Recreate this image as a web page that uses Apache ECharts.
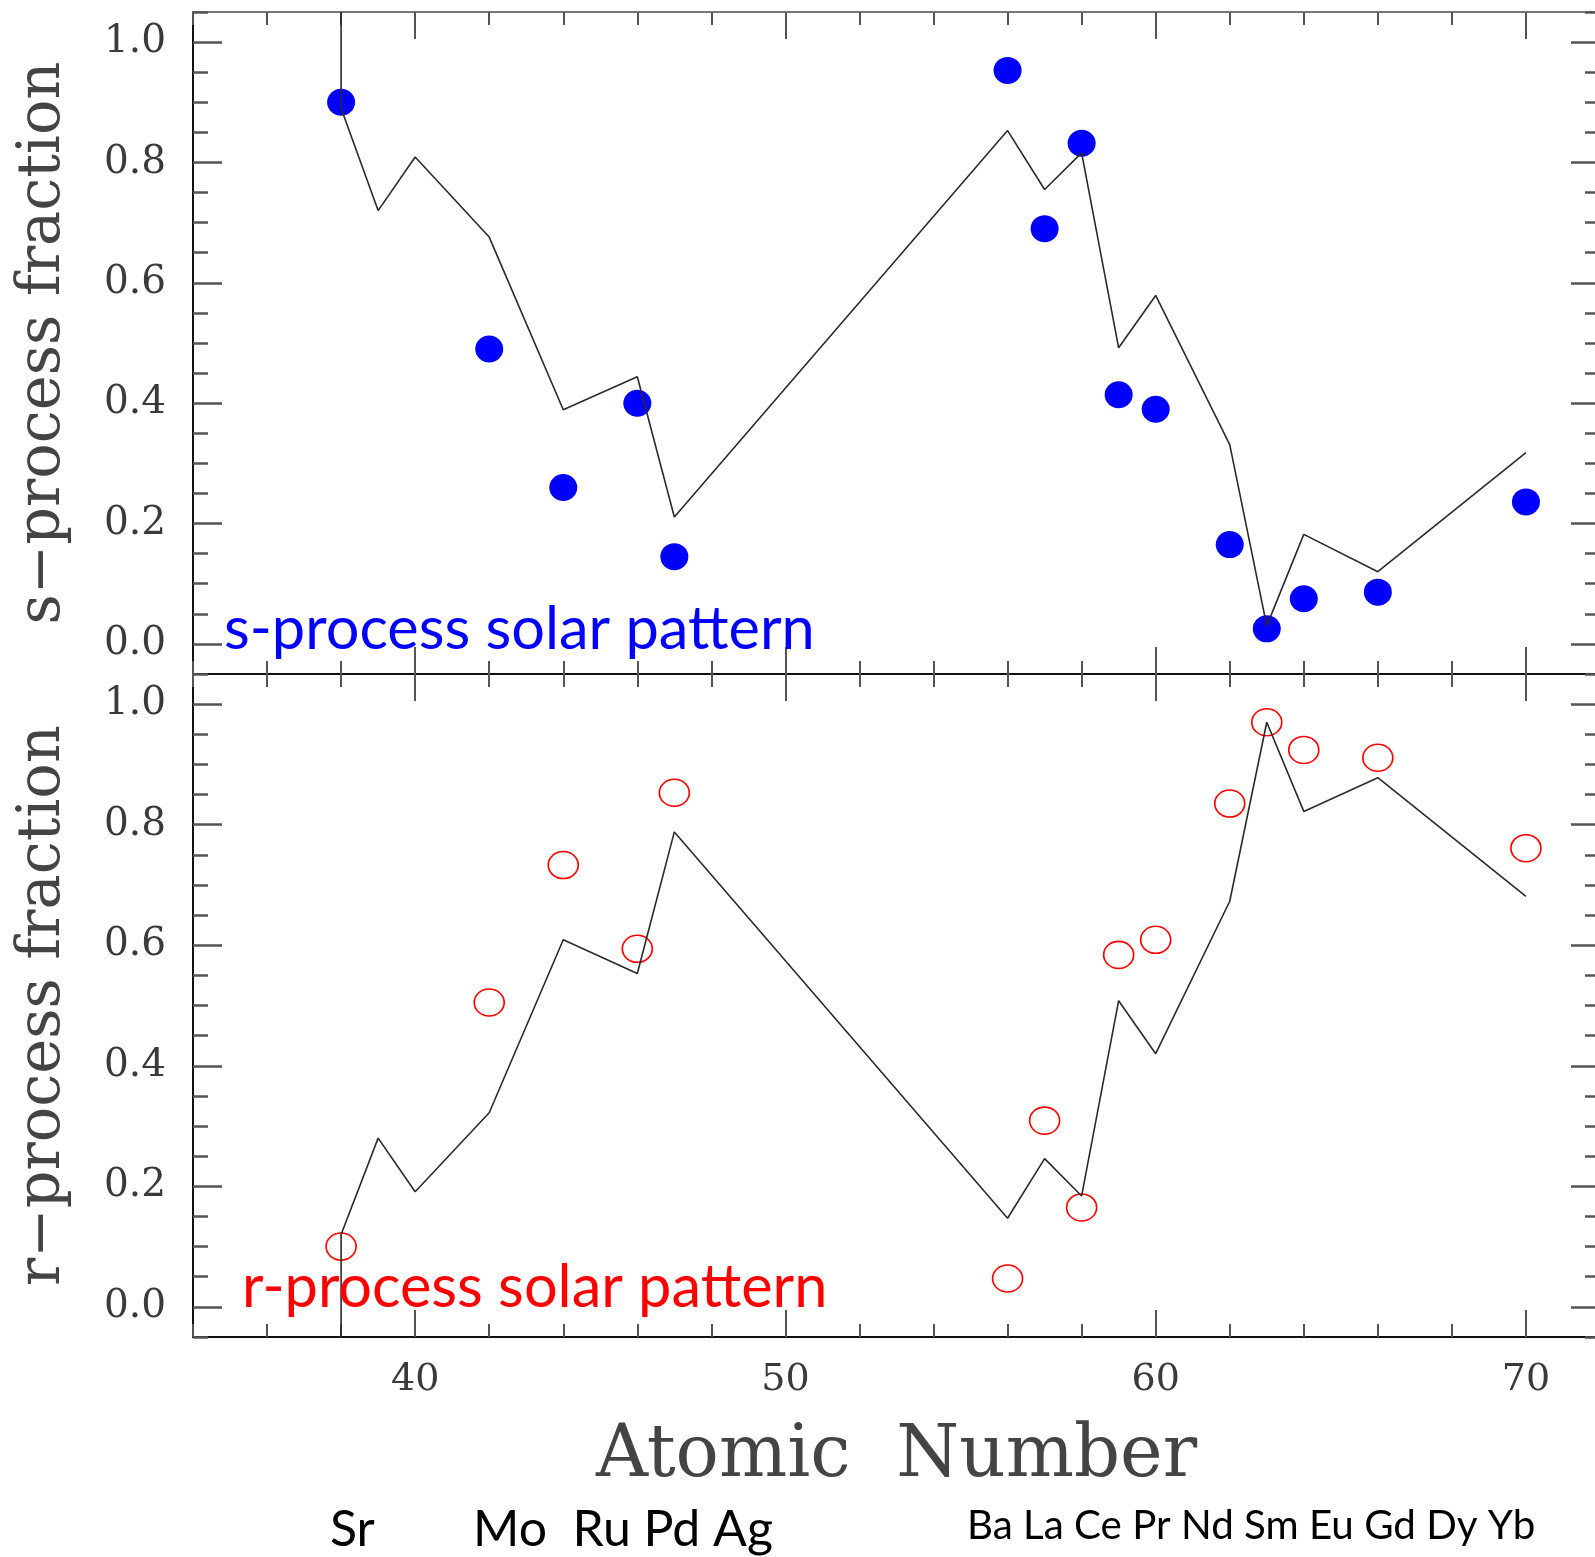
<!DOCTYPE html>
<html>
<head>
<meta charset="utf-8">
<title>s- and r-process solar fractions</title>
<script src="https://cdn.jsdelivr.net/npm/echarts@6/dist/echarts.min.js"></script>
<style>
  html, body { margin: 0; padding: 0; background: #fff; overflow: hidden; }
  /* the plot frame's right edge sits just past the page edge */
  #chart { width: 1600px; height: 1557px; }
</style>
</head>
<body>
<div id="chart"></div>
<script>
// Elements measured and their atomic numbers
const elements = ['Sr', 'Mo', 'Ru', 'Pd', 'Ag', 'Ba', 'La', 'Ce', 'Pr', 'Nd', 'Sm', 'Eu', 'Gd', 'Dy', 'Yb'];
const atomicNumbers = [38, 42, 44, 46, 47, 56, 57, 58, 59, 60, 62, 63, 64, 66, 70];

// Observed fractions per element
const sFraction = [0.90, 0.49, 0.26, 0.40, 0.145, 0.953, 0.69, 0.832, 0.414, 0.39, 0.165, 0.025, 0.075, 0.086, 0.236];
const rFraction = [0.10, 0.505, 0.733, 0.594, 0.853, 0.047, 0.309, 0.165, 0.584, 0.609, 0.835, 0.97, 0.924, 0.911, 0.761];

// Solar-system s/r decomposition curves
const modelZ = [38, 38, 39, 40, 42, 44, 46, 47, 56, 57, 58, 59, 60, 62, 63, 64, 66, 70];
const sModel = [1.05, 0.89, 0.72, 0.809, 0.676, 0.389, 0.444, 0.211, 0.853, 0.755, 0.816, 0.492, 0.579, 0.331, 0.03, 0.182, 0.12, 0.318];
const rModel = [-0.05, 0.12, 0.28, 0.191, 0.322, 0.609, 0.553, 0.788, 0.147, 0.246, 0.184, 0.508, 0.42, 0.673, 0.97, 0.822, 0.878, 0.681];

// Axis ticks
const xMajorTicks = [40, 50, 60, 70];
const yMajorTicks = [0.0, 0.2, 0.4, 0.6, 0.8, 1.0];

// Element names written below the axis
const elementRows = ['Sr', 'Mo  Ru Pd Ag', 'Ba La Ce Pr Nd Sm Eu Gd Dy Yb'];

const panelTitles = ['s-process solar pattern', 'r-process solar pattern'];
const yNames = ['s\u2212process fraction', 'r\u2212process fraction'];
const xName = 'Atomic  Number';

const pairs = (xs, ys) => xs.map((x, i) => [x, ys[i]]);

const serif = 'DejaVu Serif';
const tickColor = '#555';

const X_MIN = 34, X_MAX = 72, Y_MIN = -0.05, Y_MAX = 1.05;

function xAxisMinor(grid, position, lineColor) {
  return {
    type: 'value', gridIndex: grid, position: position,
    min: X_MIN, max: X_MAX, interval: 2,
    axisLine: { show: true, onZero: false, lineStyle: { color: lineColor, width: 2 } },
    axisTick: { show: true, inside: true, length: 13, lineStyle: { color: tickColor, width: 2 } },
    axisLabel: { show: false },
    splitLine: { show: false }
  };
}
function xAxisMajor(grid, position, withLabels) {
  const ax = {
    type: 'value', gridIndex: grid, position: position,
    min: X_MIN, max: X_MAX,
    axisLine: { show: false, onZero: false },
    axisTick: { show: true, inside: true, length: 27, customValues: xMajorTicks,
                lineStyle: { color: tickColor, width: 2 } },
    axisLabel: { show: !!withLabels, customValues: xMajorTicks, margin: 24,
                 fontFamily: serif, fontSize: 38, color: '#3a3a3a',
                 formatter: v => String(v) },
    splitLine: { show: false }
  };
  if (withLabels) {
    ax.name = xName;
    ax.nameLocation = 'middle';
    ax.nameGap = 84;
    ax.nameTextStyle = { fontFamily: serif, fontSize: 72, color: '#444' };
  }
  return ax;
}
function yAxisMinor(grid, position) {
  return {
    type: 'value', gridIndex: grid, position: position,
    min: Y_MIN, max: Y_MAX, interval: 0.05,
    axisLine: { show: true, onZero: false, lineStyle: { color: '#111', width: 2 } },
    axisTick: { show: true, inside: true, length: 15, lineStyle: { color: tickColor, width: 2.5 } },
    axisLabel: { show: false },
    splitLine: { show: false }
  };
}
function yAxisMajor(grid, position, name) {
  const ax = {
    type: 'value', gridIndex: grid, position: position,
    min: Y_MIN, max: Y_MAX,
    axisLine: { show: false, onZero: false },
    axisTick: { show: true, inside: true, length: 29, customValues: yMajorTicks,
                lineStyle: { color: tickColor, width: 2.5 } },
    axisLabel: { show: !!name, customValues: yMajorTicks, margin: 27,
                 fontFamily: serif, fontSize: 39, color: '#3a3a3a',
                 formatter: v => v.toFixed(1) },
    splitLine: { show: false }
  };
  if (name) {
    ax.name = name;
    ax.nameLocation = 'middle';
    ax.nameGap = 120;
    ax.nameTextStyle = { fontFamily: serif, fontSize: 59, color: '#444' };
  }
  return ax;
}

const topGrid = { left: 193, right: 0, top: 12, height: 662 };
const botGrid = { left: 193, right: 0, top: 674, height: 663 };

const option = {
  backgroundColor: '#fff',
  animation: false,
  grid: [
    Object.assign({}, topGrid), Object.assign({}, topGrid),
    Object.assign({}, botGrid), Object.assign({}, botGrid)
  ],
  xAxis: [
    xAxisMinor(0, 'bottom', '#111'),
    xAxisMinor(0, 'top', '#777'),
    xAxisMajor(1, 'bottom', false),
    xAxisMajor(1, 'top', false),
    xAxisMinor(2, 'bottom', '#111'),
    xAxisMinor(2, 'top', '#111'),
    xAxisMajor(3, 'bottom', true),
    xAxisMajor(3, 'top', false)
  ],
  yAxis: [
    yAxisMinor(0, 'left'),
    yAxisMinor(0, 'right'),
    yAxisMajor(1, 'left', yNames[0]),
    yAxisMajor(1, 'right', null),
    yAxisMinor(2, 'left'),
    yAxisMinor(2, 'right'),
    yAxisMajor(3, 'left', yNames[1]),
    yAxisMajor(3, 'right', null)
  ],
  series: [
    {
      name: 's observed', type: 'scatter', xAxisIndex: 0, yAxisIndex: 0,
      data: pairs(atomicNumbers, sFraction),
      symbol: 'circle', symbolSize: [28, 27],
      itemStyle: { color: '#0000ff', opacity: 1 }, z: 2
    },
    {
      name: 's model', type: 'line', xAxisIndex: 0, yAxisIndex: 0,
      data: pairs(modelZ, sModel),
      showSymbol: false, symbol: 'none',
      lineStyle: { color: '#2a2a2a', width: 1.6 }, z: 3
    },
    {
      name: 'r observed', type: 'scatter', xAxisIndex: 4, yAxisIndex: 4,
      data: pairs(atomicNumbers, rFraction),
      symbol: 'circle', symbolSize: [30, 27],
      itemStyle: { color: 'rgba(0,0,0,0)', borderColor: '#ff0000', borderWidth: 1.6, opacity: 1 }, z: 2
    },
    {
      name: 'r model', type: 'line', xAxisIndex: 4, yAxisIndex: 4,
      data: pairs(modelZ, rModel),
      showSymbol: false, symbol: 'none',
      lineStyle: { color: '#2a2a2a', width: 1.6 }, z: 3
    }
  ],
  graphic: [
    { type: 'text', x: 224, y: 630, z: 10,
      style: { text: panelTitles[0], font: '59.5px Lato', fill: '#0000ff',
               align: 'left', verticalAlign: 'middle', textAlign: 'left', textVerticalAlign: 'middle' } },
    { type: 'text', x: 242, y: 1288, z: 10,
      style: { text: panelTitles[1], font: '59.5px Lato', fill: '#ff0000',
               align: 'left', verticalAlign: 'middle', textAlign: 'left', textVerticalAlign: 'middle' } },
    { type: 'text', x: 330, y: 1530, z: 10,
      style: { text: elementRows[0], font: '50px Lato', fill: '#000',
               align: 'left', verticalAlign: 'middle', textAlign: 'left', textVerticalAlign: 'middle' } },
    { type: 'text', x: 473, y: 1530, z: 10,
      style: { text: elementRows[1], font: '50px Lato', fill: '#000',
               align: 'left', verticalAlign: 'middle', textAlign: 'left', textVerticalAlign: 'middle' } },
    { type: 'text', x: 967, y: 1526, z: 10,
      style: { text: elementRows[2], font: '40.3px Lato', fill: '#000',
               align: 'left', verticalAlign: 'middle', textAlign: 'left', textVerticalAlign: 'middle' } }
  ]
};

const chart = echarts.init(document.getElementById('chart'), null, { renderer: 'canvas' });
chart.setOption(option);
</script>
</body>
</html>
